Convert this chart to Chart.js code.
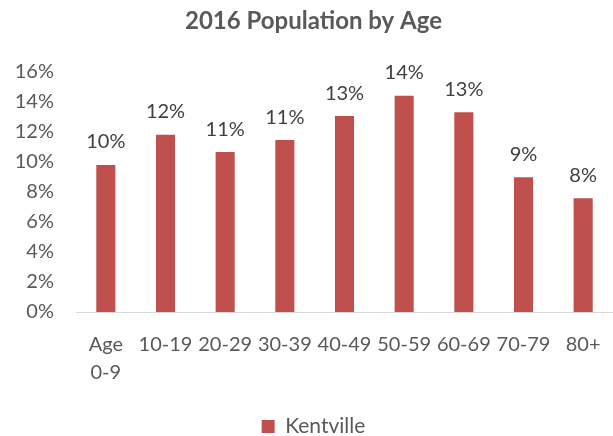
<!DOCTYPE html>
<html>
<head>
<meta charset="utf-8">
<script src="https://cdn.jsdelivr.net/npm/chart.js@4/dist/chart.umd.min.js"></script>
<style>
  html, body { margin: 0; padding: 0; background: #fff; overflow: hidden; }
  #wrap { position: absolute; left: 12px; top: 0; width: 613px; height: 436px; }
</style>
</head>
<body>
<div id="wrap"><canvas id="myChart"></canvas></div>
<script>
  'use strict'

  // values (share of population, %)
  var ageGroups = [['Age', '0-9'], '10-19', '20-29', '30-39', '40-49', '50-59', '60-69', '70-79', '80+']
  var kentville = [9.8, 11.8, 10.65, 11.45, 13.05, 14.4, 13.3, 8.98, 7.58]
  var yTicks = [0, 2, 4, 6, 8, 10, 12, 14, 16]

  var textGrey = '#595959'
  var fontName = 'Lato, "Open Sans", sans-serif'

  // draws the rounded percentage above each bar
  var barLabels = {
    id: 'barLabels',
    afterDatasetsDraw: function (chart) {
      var ctx = chart.ctx
      var meta = chart.getDatasetMeta(0)
      ctx.save()
      ctx.font = '20px ' + fontName
      ctx.fillStyle = '#404040'
      ctx.textAlign = 'center'
      ctx.textBaseline = 'bottom'
      meta.data.forEach(function (bar, i) {
        ctx.fillText(Math.round(kentville[i]) + '%', bar.x, bar.y - 13)
      })
      ctx.restore()
    }
  }

  var ctx = document.getElementById('myChart')
  new Chart(ctx, {
    type: 'bar',
    data: {
      labels: ageGroups,
      datasets: [{
        label: 'Kentville',
        data: kentville,
        backgroundColor: '#C0504D',
        barPercentage: 0.32,
        categoryPercentage: 1
      }]
    },
    options: {
      responsive: true,
      maintainAspectRatio: false,
      animation: false,
      layout: { padding: { left: 2, right: 12, top: 0, bottom: -11 } },
      plugins: {
        title: {
          display: true,
          text: '2016 Population by Age',
          color: textGrey,
          font: { family: fontName, size: 24, weight: 'bold' },
          padding: { top: 7, bottom: 36 }
        },
        legend: {
          position: 'bottom',
          labels: {
            color: textGrey,
            font: { family: fontName, size: 21 },
            boxWidth: 13,
            boxHeight: 13,
            padding: 1
          }
        },
        tooltip: { enabled: false }
      },
      scales: {
        x: {
          grid: { display: false, drawTicks: false },
          border: { color: '#D9D9D9', width: 1 },
          afterFit: function (axis) { axis.height += 9 },
          ticks: {
            color: textGrey,
            font: { family: fontName, size: 20, lineHeight: 1.4 },
            maxRotation: 0,
            autoSkip: false,
            padding: 19
          }
        },
        y: {
          min: 0,
          max: 16,
          afterBuildTicks: function (axis) {
            axis.ticks = yTicks.map(function (v) { return { value: v } })
          },
          afterFit: function (axis) { axis.width = 62 },
          grid: { display: false, drawTicks: false },
          border: { display: false },
          ticks: {
            color: textGrey,
            font: { family: fontName, size: 20 },
            padding: 22,
            callback: function (v) { return v + '%' }
          }
        }
      }
    },
    plugins: [barLabels]
  })
</script>
</body>
</html>
